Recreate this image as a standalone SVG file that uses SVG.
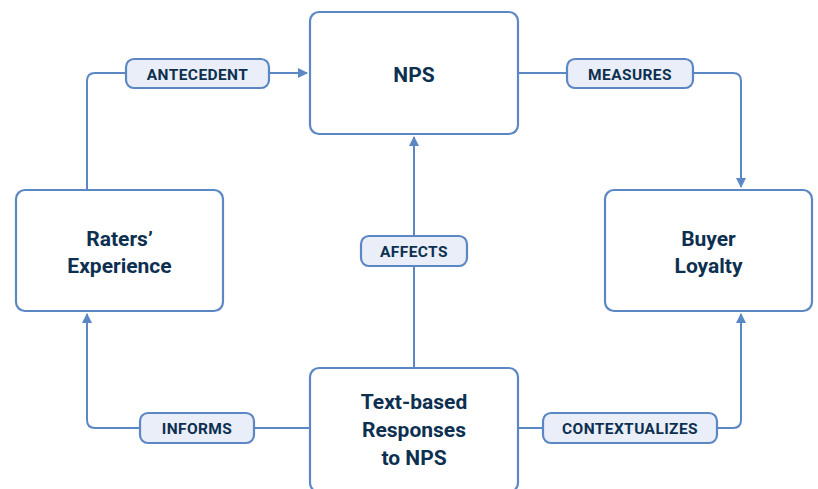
<svg xmlns="http://www.w3.org/2000/svg" width="818" height="489" viewBox="0 0 818 489">
  <style>
    .node { fill: #ffffff; stroke: #5b87c5; stroke-width: 2.2; }
    .tag { fill: #e9eef8; stroke: #5b87c5; stroke-width: 2.2; }
    .wire { fill: none; stroke: #5b87c5; stroke-width: 2; }
    .ntext { font-family: Roboto, "Liberation Sans", sans-serif; font-weight: 700; font-size: 21px; fill: #0d3050; text-anchor: middle; }
    .ttext { font-family: Roboto, "Liberation Sans", sans-serif; font-weight: 700; font-size: 15.5px; fill: #0d3050; text-anchor: middle; letter-spacing: 0.4px; }
  </style>
  <defs>
    <marker id="arrow" viewBox="0 0 10 10" refX="9" refY="5" markerWidth="10" markerHeight="10" markerUnits="userSpaceOnUse" orient="auto">
      <path d="M0,0 L10,5 L0,10 z" fill="#5b87c5"/>
    </marker>
  </defs>

  <!-- connectors -->
  <g id="connectors">
    <path class="wire" d="M87,189 V81 Q87,73 95,73 H307" marker-end="url(#arrow)"/>
    <path class="wire" d="M519,73 H733 Q741,73 741,81 V187" marker-end="url(#arrow)"/>
    <path class="wire" d="M414,367 V137" marker-end="url(#arrow)"/>
    <path class="wire" d="M309,428 H95 Q87,428 87,420 V314" marker-end="url(#arrow)"/>
    <path class="wire" d="M518,428 H733 Q741,428 741,420 V314" marker-end="url(#arrow)"/>
  </g>

  <!-- edge labels -->
  <g id="label-antecedent">
    <rect class="tag" x="126" y="59" width="143" height="29" rx="8"/>
    <text class="ttext" x="197.5" y="79.5">ANTECEDENT</text>
  </g>
  <g id="label-measures">
    <rect class="tag" x="567" y="59" width="126" height="29" rx="8"/>
    <text class="ttext" x="630" y="79.5">MEASURES</text>
  </g>
  <g id="label-affects">
    <rect class="tag" x="361" y="236" width="106" height="30" rx="8"/>
    <text class="ttext" x="414" y="256.5">AFFECTS</text>
  </g>
  <g id="label-informs">
    <rect class="tag" x="140" y="413" width="114" height="30" rx="8"/>
    <text class="ttext" x="197" y="434">INFORMS</text>
  </g>
  <g id="label-contextualizes">
    <rect class="tag" x="543" y="413" width="174" height="30" rx="8"/>
    <text class="ttext" x="630" y="434">CONTEXTUALIZES</text>
  </g>

  <!-- nodes -->
  <g id="node-nps">
    <rect class="node" x="310" y="12" width="208" height="122" rx="9"/>
    <text class="ntext" x="414" y="82">NPS</text>
  </g>
  <g id="node-raters">
    <rect class="node" x="16" y="190" width="207" height="121" rx="9"/>
    <text class="ntext" x="119.5" y="246">Raters’</text>
    <text class="ntext" x="119.5" y="273">Experience</text>
  </g>
  <g id="node-buyer">
    <rect class="node" x="605" y="190" width="207" height="121" rx="9"/>
    <text class="ntext" x="708.5" y="246">Buyer</text>
    <text class="ntext" x="708.5" y="273">Loyalty</text>
  </g>
  <g id="node-text">
    <rect class="node" x="310" y="368" width="208" height="124" rx="9"/>
    <text class="ntext" x="414" y="409">Text-based</text>
    <text class="ntext" x="414" y="437">Responses</text>
    <text class="ntext" x="414" y="465">to NPS</text>
  </g>
</svg>
